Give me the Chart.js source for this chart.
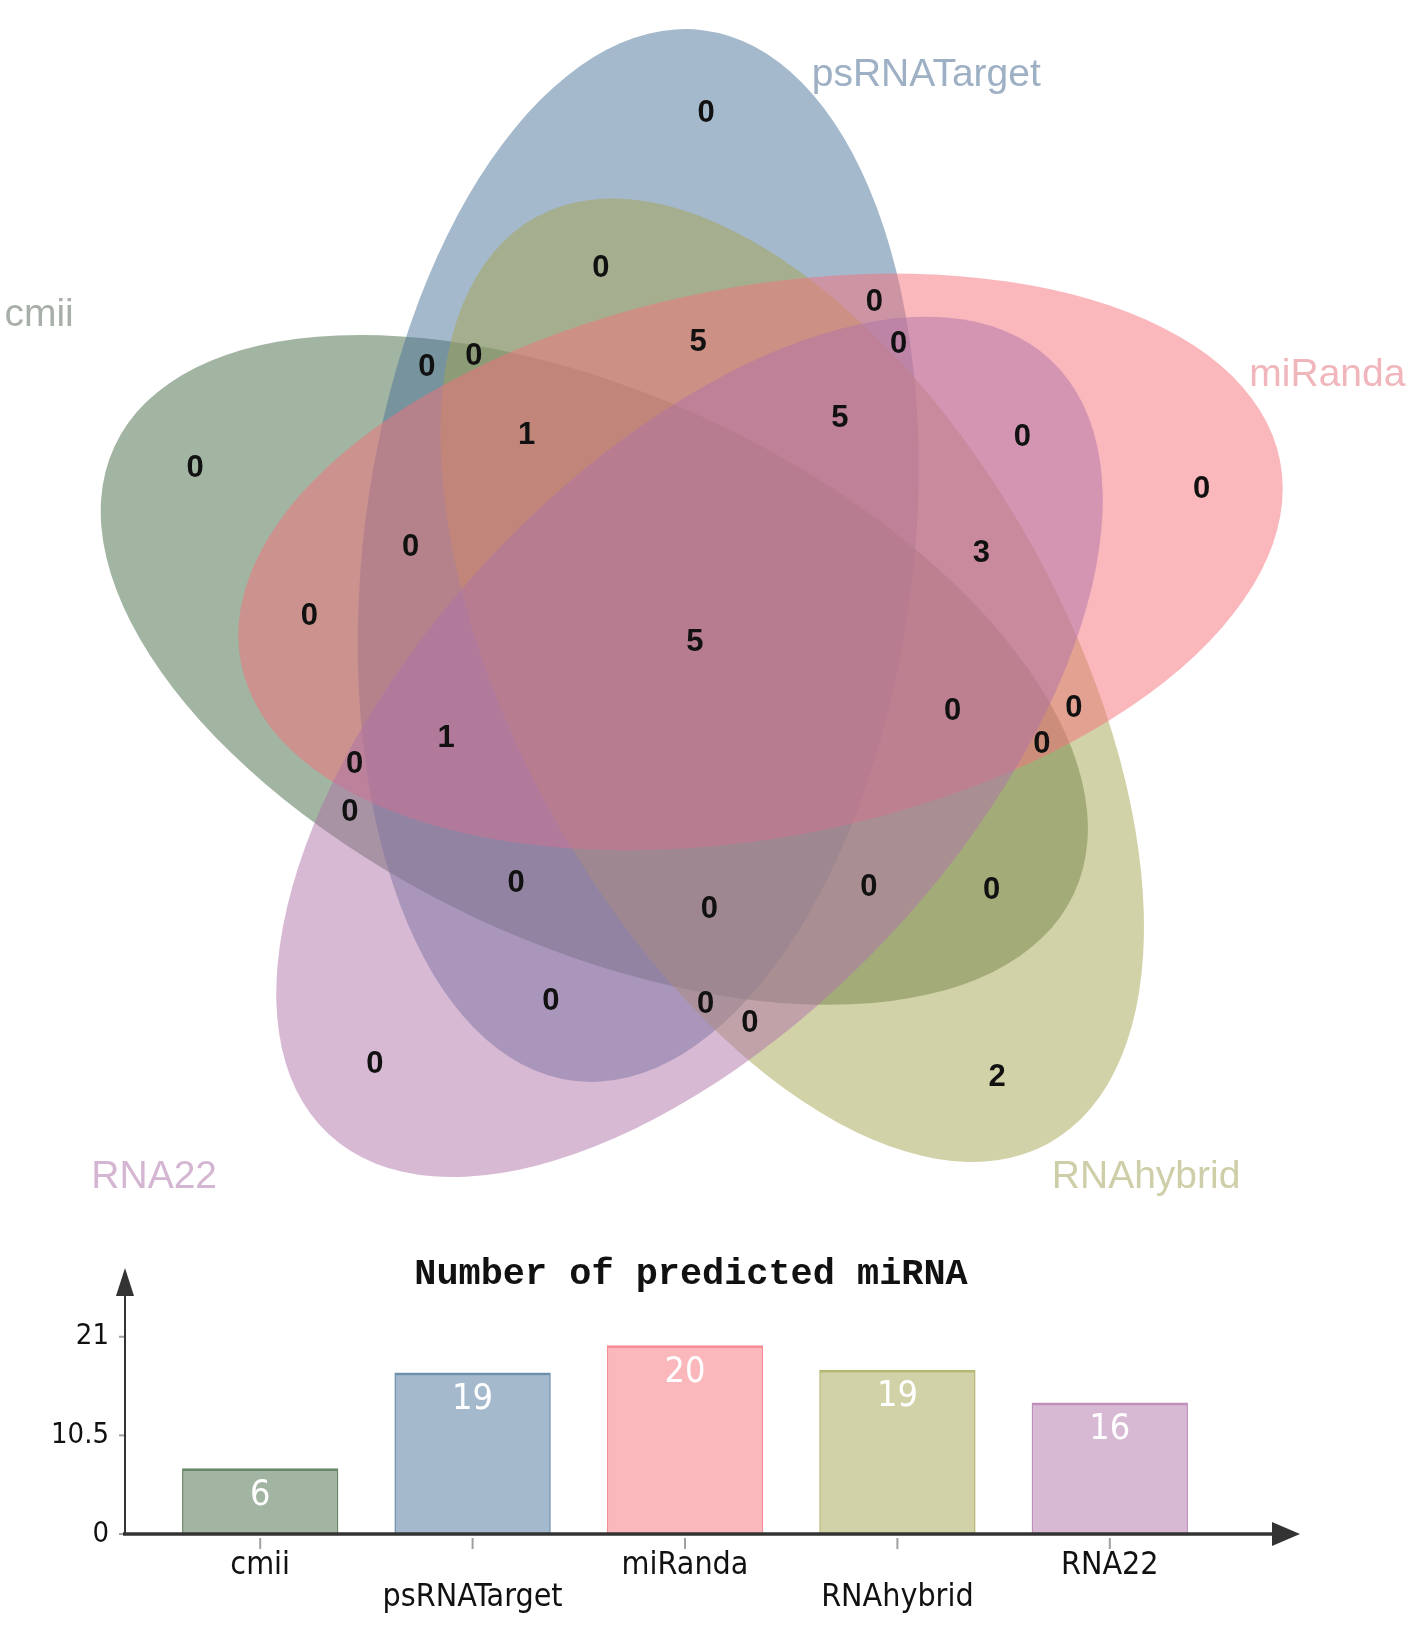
<!DOCTYPE html>
<html>
<head>
<meta charset="utf-8">
<script src="https://cdn.jsdelivr.net/npm/chart.js@4.4.1/dist/chart.umd.min.js"></script>
<style>
html,body{margin:0;padding:0;background:#ffffff;overflow:hidden;}
canvas{display:block;}
</style>
</head>
<body>
<canvas id="venn" width="1417" height="1200"></canvas>
<canvas id="bars" width="1417" height="433"></canvas>
<script>
// ================= DATA =================
// sets, clockwise from the top of the diagram
const setNames = ['psRNATarget', 'miRanda', 'RNAhybrid', 'RNA22', 'cmii'];
const setColors = [[75,115,155],[245,113,123],[165,165,81],[175,115,169],[69,105,69]];

// Venn regions (members joined by '&') and their counts
const regionKeys = [
  'psRNATarget','miRanda','RNAhybrid','RNA22','cmii',
  'psRNATarget&miRanda','miRanda&RNAhybrid','RNAhybrid&RNA22','RNA22&cmii','cmii&psRNATarget',
  'psRNATarget&RNAhybrid','miRanda&RNA22','RNAhybrid&cmii','RNA22&psRNATarget','cmii&miRanda',
  'psRNATarget&miRanda&RNAhybrid','miRanda&RNAhybrid&RNA22','RNAhybrid&RNA22&cmii','RNA22&cmii&psRNATarget','cmii&psRNATarget&miRanda',
  'psRNATarget&miRanda&RNA22','miRanda&RNAhybrid&cmii','RNAhybrid&RNA22&psRNATarget','RNA22&cmii&miRanda','cmii&psRNATarget&RNAhybrid',
  'miRanda&RNAhybrid&RNA22&cmii','psRNATarget&RNAhybrid&RNA22&cmii','psRNATarget&miRanda&RNA22&cmii','psRNATarget&miRanda&RNAhybrid&cmii','psRNATarget&miRanda&RNAhybrid&RNA22',
  'psRNATarget&miRanda&RNAhybrid&RNA22&cmii'
];
const regionCounts = [
  0,0,2,0,0,
  0,0,0,0,0,
  0,0,0,0,0,
  5,3,0,0,0,
  0,0,0,0,0,
  0,0,1,1,5,
  5
];

// bar chart
const barTitle = 'Number of predicted miRNA';
const barCategories = ['cmii', 'psRNATarget', 'miRanda', 'RNAhybrid', 'RNA22'];
const barHeights = [7, 17.2, 20.1, 17.5, 14];
const barValueLabels = ['6', '19', '20', '19', '16'];
const yTickValues = [0, 10.5, 21];
const yAxisMax = 28;

// ================= LAYOUT =================
// Venn drawn in a coordinate space of 1360 x 1151.7 units (y downwards)
const V = { xMax:1360, yMax:1151.7, cx:667, cy:617, d:100, phi0:237, psi0:277, a:508, b:264 };
const drawOrder = ['cmii','psRNATarget','RNAhybrid','miRanda','RNA22'];
// rotational orbits of the label positions (base membership offsets, angle deg, radius)
const orbits = [
  {base:[0],       ang:271.2, r:508},
  {base:[0,1],     ang:297.8, r:369},
  {base:[0,2],     ang:255.9, r:371},
  {base:[0,1,2],   ang:270.6, r:288},
  {base:[0,1,3],   ang:304.3, r:347},
  {base:[1,2,3,4], ang:14.9,  r:256}
];
const setLabelPos = { psRNATarget:[889,72], miRanda:[1274,360], RNAhybrid:[1100,1130], RNA22:[148,1130], cmii:[37.5,303] };
const setLabelColors = { psRNATarget:'rgb(158,176,196)', miRanda:'rgb(240,182,188)', RNAhybrid:'rgb(206,206,168)', RNA22:'rgb(212,182,210)', cmii:'rgb(168,174,168)' };

function rgba(c, a){ return 'rgba(' + c[0] + ',' + c[1] + ',' + c[2] + ',' + a + ')'; }
const rad = d => d * Math.PI / 180;

function regionLayout(members){
  if (members.length === 5) return {ang:0, r:0};
  const key = members.slice().sort().join(',');
  for (const o of orbits){
    if (o.base.length !== members.length) continue;
    for (let k = 0; k < 5; k++){
      const rot = o.base.map(i => (i + k) % 5).sort().join(',');
      if (rot === key) return {ang:o.ang + 72 * k, r:o.r};
    }
  }
  return {ang:0, r:0};
}

const regionPoints = regionKeys.map(key => {
  const members = key.split('&').map(n => setNames.indexOf(n));
  const L = regionLayout(members);
  return { x: V.cx + L.r * Math.cos(rad(L.ang)), y: V.cy + L.r * Math.sin(rad(L.ang)) };
});

// ---- font helpers ----
const mctx = document.createElement('canvas').getContext('2d');
function fontAvailable(fam){
  const t = 'mmmmmmmmmmlli10.5WWpsRNA';
  mctx.font = '40px monospace'; const a = mctx.measureText(t).width;
  mctx.font = '40px "' + fam + '", monospace'; const b = mctx.measureText(t).width;
  mctx.font = '40px serif'; const a2 = mctx.measureText(t).width;
  mctx.font = '40px "' + fam + '", serif'; const b2 = mctx.measureText(t).width;
  return Math.abs(a - b) > 0.1 || Math.abs(a2 - b2) > 0.1;
}
const narrowFam = ['Liberation Sans Narrow', 'DejaVu Sans Condensed', 'Liberation Sans'].find(fontAvailable) || 'Arial';
function fitSize(text, fam, weight, targetW){
  mctx.font = weight + ' 100px "' + fam + '"';
  return 100 * targetW / mctx.measureText(text).width;
}
const catSize = fitSize('psRNATarget', narrowFam, 'normal', 180);
const yTickSize = fitSize('10.5', narrowFam, 'normal', 58);
const valSize = fitSize('19', narrowFam, 'normal', 41);
const titleSize = fitSize(barTitle, 'Liberation Mono', 'bold', 553);

// ================= VENN =================
const vennPlugin = {
  id: 'vennShapes',
  beforeDatasetsDraw(chart){
    const {ctx, scales:{x, y}} = chart;
    const k = (x.getPixelForValue(1000) - x.getPixelForValue(0)) / 1000;
    ctx.save();
    drawOrder.forEach(name => {
      const i = setNames.indexOf(name);
      const phi = rad(V.phi0 + 72 * i), psi = rad(V.psi0 + 72 * i);
      const px = x.getPixelForValue(V.cx + V.d * Math.cos(phi));
      const py = y.getPixelForValue(V.cy + V.d * Math.sin(phi));
      ctx.beginPath();
      ctx.ellipse(px, py, V.a * k, V.b * k, psi, 0, 2 * Math.PI);
      ctx.fillStyle = rgba(setColors[i], 0.5);
      ctx.fill();
    });
    ctx.font = '39px "Liberation Sans", Arial, sans-serif';
    ctx.textAlign = 'center';
    ctx.textBaseline = 'middle';
    setNames.forEach(n => {
      const p = setLabelPos[n];
      ctx.fillStyle = setLabelColors[n];
      ctx.fillText(n, x.getPixelForValue(p[0]), y.getPixelForValue(p[1]));
    });
    ctx.restore();
  },
  afterDatasetsDraw(chart){
    const ctx = chart.ctx;
    const meta = chart.getDatasetMeta(0);
    ctx.save();
    ctx.font = 'bold 31px "Liberation Sans", Arial, sans-serif';
    ctx.fillStyle = '#111111';
    ctx.textAlign = 'center';
    ctx.textBaseline = 'middle';
    meta.data.forEach((pt, i) => ctx.fillText(String(regionCounts[i]), pt.x, pt.y));
    ctx.restore();
  }
};

new Chart(document.getElementById('venn'), {
  type: 'scatter',
  data: { datasets: [{ data: regionPoints, pointRadius: 0, pointHoverRadius: 0 }] },
  options: {
    responsive: false, animation: false, events: [],
    layout: { padding: 0 },
    plugins: { legend: { display: false }, tooltip: { enabled: false } },
    scales: {
      x: { type: 'linear', display: false, min: 0, max: V.xMax },
      y: { type: 'linear', display: false, min: 0, max: V.yMax, reverse: true }
    }
  },
  plugins: [vennPlugin]
});

// ================= BARS =================
const barIdx = barCategories.map(n => setNames.indexOf(n));
const barPlugin = {
  id: 'barDecor',
  afterDatasetsDraw(chart){
    const {ctx, chartArea: ca, scales: {x, y}} = chart;
    const y0 = y.getPixelForValue(0);
    const ax = ca.left - 29;
    ctx.save();
    // tick marks
    ctx.strokeStyle = '#a0a0a0';
    ctx.lineWidth = 2;
    yTickValues.forEach(v => {
      const py = y.getPixelForValue(v);
      ctx.beginPath(); ctx.moveTo(ax - 6, py); ctx.lineTo(ax, py); ctx.stroke();
    });
    barCategories.forEach((c, i) => {
      const px = x.getPixelForValue(i);
      ctx.beginPath(); ctx.moveTo(px, y0 + 4); ctx.lineTo(px, y0 + 15); ctx.stroke();
    });
    // axes
    ctx.strokeStyle = '#333333';
    ctx.fillStyle = '#333333';
    ctx.lineWidth = 2;
    const topTip = ca.top - 3;
    ctx.beginPath(); ctx.moveTo(ax, y0 + 1); ctx.lineTo(ax, topTip + 20); ctx.stroke();
    ctx.beginPath(); ctx.moveTo(ax, topTip); ctx.lineTo(ax - 9, topTip + 28); ctx.lineTo(ax + 9, topTip + 28); ctx.closePath(); ctx.fill();
    ctx.lineWidth = 3.5;
    const tipX = ca.right + 84;
    ctx.beginPath(); ctx.moveTo(ax - 2, y0); ctx.lineTo(tipX - 20, y0); ctx.stroke();
    ctx.beginPath(); ctx.moveTo(tipX, y0); ctx.lineTo(tipX - 28, y0 - 12); ctx.lineTo(tipX - 28, y0 + 12); ctx.closePath(); ctx.fill();
    // value labels
    ctx.fillStyle = '#ffffff';
    ctx.font = valSize.toFixed(1) + 'px "' + narrowFam + '", sans-serif';
    ctx.textAlign = 'center';
    ctx.textBaseline = 'middle';
    chart.getDatasetMeta(0).data.forEach((el, i) => ctx.fillText(barValueLabels[i], el.x, el.y + 27));
    // title
    ctx.fillStyle = '#111111';
    ctx.font = 'bold ' + titleSize.toFixed(1) + 'px "Liberation Mono", monospace';
    ctx.fillText(barTitle, 691, 75);
    ctx.restore();
  }
};

new Chart(document.getElementById('bars'), {
  type: 'bar',
  data: {
    labels: barCategories,
    datasets: [{
      data: barHeights,
      backgroundColor: barIdx.map(i => rgba(setColors[i], 0.5)),
      borderColor: barIdx.map(i => rgba(setColors[i], 0.8)),
      borderWidth: { top: 3, left: 1.5, right: 1.5, bottom: 0 },
      borderSkipped: false,
      categoryPercentage: 1,
      barPercentage: 0.736
    }]
  },
  options: {
    responsive: false, animation: false, events: [],
    layout: { padding: { top: 71, right: 201, bottom: 0, left: 0 } },
    plugins: { legend: { display: false }, tooltip: { enabled: false }, title: { display: false } },
    scales: {
      x: {
        grid: { display: false, drawTicks: false },
        border: { display: false },
        ticks: {
          padding: 16, color: '#111111', autoSkip: false, maxRotation: 0,
          font: { family: '"' + narrowFam + '", sans-serif', size: catSize, lineHeight: 31.5 / catSize },
          callback: function(v, i){ const s = this.getLabelForValue(v); return i % 2 ? ['', s] : s; }
        },
        afterFit(s){ s.height = 99; }
      },
      y: {
        min: 0, max: yAxisMax,
        grid: { display: false, drawTicks: false },
        border: { display: false },
        afterBuildTicks(s){ s.ticks = yTickValues.map(v => ({ value: v })); },
        ticks: {
          padding: 45, color: '#111111',
          font: { family: '"' + narrowFam + '", sans-serif', size: yTickSize },
          callback: v => String(v)
        },
        afterFit(s){ s.width = 154; }
      }
    }
  },
  plugins: [barPlugin]
});
</script>
</body>
</html>
